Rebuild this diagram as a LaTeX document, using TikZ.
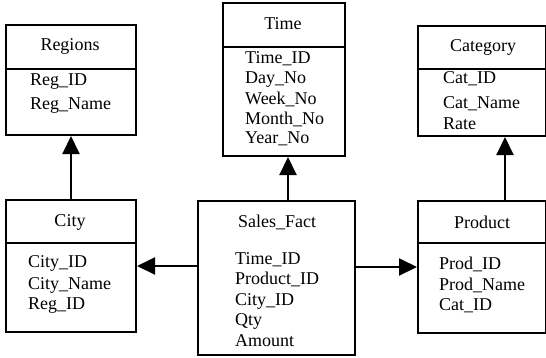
\documentclass[tikz,border=0pt]{standalone}
\usepackage{fontspec}
\setmainfont{Liberation Serif}
\usetikzlibrary{arrows.meta}

\begin{document}
\begin{tikzpicture}[x=1pt,y=-1pt,
  tbl/.style={draw=black, line width=2pt, anchor=north west, inner sep=0pt},
  ttl/.style={font=\fontsize{18}{20}\selectfont, inner sep=0pt},
  fld/.style={font=\fontsize{18}{20}\selectfont, anchor=west, inner sep=0pt},
  fk/.style={line width=2pt, -{Triangle[width=17pt,length=18pt]}}]
\useasboundingbox (0,0) rectangle (546,357);
%------------------ tables
\node[tbl, minimum width=130pt, minimum height=110pt] (regions) at (5,24) {};
\node[tbl, minimum width=130pt, minimum height=132pt] (city) at (5,199) {};
\node[tbl, minimum width=122pt, minimum height=153pt] (time) at (222,2) {};
\node[tbl, minimum width=157pt, minimum height=154pt] (fact) at (197,200) {};
\node[tbl, minimum width=128pt, minimum height=110pt] (category) at (417,25) {};
\node[tbl, minimum width=128pt, minimum height=132pt] (product) at (417,200) {};
%------------------ dividers
\draw[line width=1.4pt] (regions.west |- 0,69) -- (regions.east |- 0,69);
\draw[line width=1.4pt] (city.west |- 0,243) -- (city.east |- 0,243);
\draw[line width=1.4pt] (time.west |- 0,47) -- (time.east |- 0,47);
\draw[line width=1.4pt] (category.west |- 0,69) -- (category.east |- 0,69);
\draw[line width=1.4pt] (product.west |- 0,243) -- (product.east |- 0,243);
%------------------ titles
\node[ttl] (regions-t) at (70,46) {Regions};
\node[ttl] (city-t) at (70,222) {City};
\node[ttl] (time-t) at (283,24) {Time};
\node[ttl] (fact-t) at (277,222) {Sales\_Fact};
\node[ttl] (category-t) at (483,47) {Category};
\node[ttl] (product-t) at (482,222) {Product};
%------------------ fields
\foreach \f/\y [count=\i] in {Reg\_ID/82, Reg\_Name/106}
  \node[fld] (regions-\i) at (30,\y) {\f};
\foreach \f/\y [count=\i] in {City\_ID/263, City\_Name/285, Reg\_ID/306}
  \node[fld] (city-\i) at (28,\y) {\f};
\foreach \f/\y [count=\i] in {Time\_ID/59, Day\_No/80, Week\_No/99, Month\_No/119, Year\_No/139}
  \node[fld] (time-\i) at (245,\y) {\f};
\foreach \f/\y [count=\i] in {Time\_ID/260, Product\_ID/279, City\_ID/301, Qty/321, Amount/341}
  \node[fld] (fact-\i) at (235,\y) {\f};
\foreach \f/\y [count=\i] in {Cat\_ID/79, Cat\_Name/104, Rate/124}
  \node[fld] (category-\i) at (443,\y) {\f};
\foreach \f/\y [count=\i] in {Prod\_ID/264, Prod\_Name/285, Cat\_ID/306}
  \node[fld] (product-\i) at (439,\y) {\f};
%------------------ keys
\draw[fk] (city.north) -- (regions.south);
\draw[fk] ([xshift=4pt]fact.north -| time.south) -- ([xshift=4pt]time.south);
\draw[fk] (fact.west |- city.east) -- (city.east);
\draw[fk] (fact.east |- product.west) -- (product.west);
\draw[fk] ([xshift=23pt]product.north) -- ([xshift=23pt]category.south);
\end{tikzpicture}
\end{document}
